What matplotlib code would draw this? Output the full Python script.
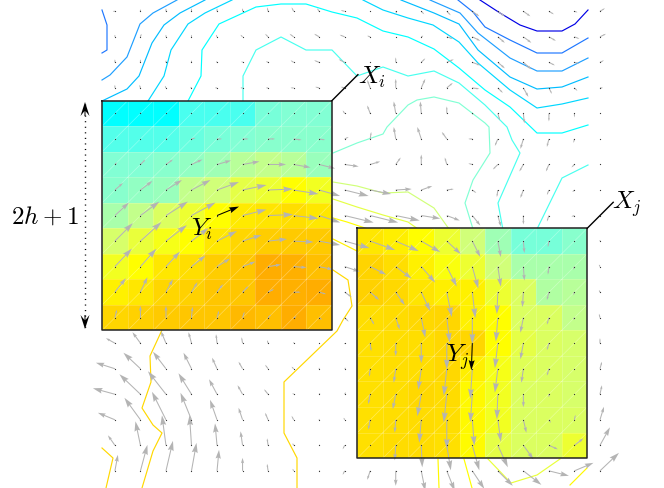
import numpy as np
from matplotlib import pyplot as plt
from matplotlib.colors import LinearSegmentedColormap, Normalize

plt.rcParams['mathtext.fontset'] = 'cm'

# vector field, one row per grid row (y grows downwards), pixels of displacement
u = np.array([
    [-2, 0, 0, 0, 0, 0, -1, -2, -2, -4, 0, 1, 3, 4, 7, 7, 7, 5, 3, 5],
    [0, 1, 0, 0, -1, -2, -3, -4, -5, -5, -3, 0, 2, 6, 8, 7, 8, 7, 5, 6],
    [0, 0, 0, 0, -1, -1, -2, -3, -5, -6, 0, 0, 4, 7, 8, 7, 8, 6, 5, 4],
    [0, -1, -1, -1, -2, -2, -2, -3, -4, -4, -3, 0, 4, 6, 7, 5, 5, 3, 3, 3],
    [0, 1, 0, 0, 0, 0, 1, 0, 0, -2, -3, -2, -1, 0, 1, 2, 1, 0, 0, 0],
    [0, 0, 1, 4, 5, 6, 7, 8, 6, 4, 1, -2, -4, -5, -4, -3, -3, -2, -1, 0],
    [2, 5, 7, 11, 14, 17, 18, 17, 16, 14, 10, 5, 0, -2, -4, -5, -4, -3, -3, 0],
    [8, 12, 16, 19, 22, 24, 25, 25, 21, 24, 21, 16, 11, 7, 4, -1, -3, -2, -2, 0],
    [14, 19, 22, 24, 22, 24, 25, 25, 21, 29, 28, 24, 19, 13, 8, 3, 0, -2, -3, 0],
    [18, 21, 21, 17, 20, 19, 19, 20, 21, 25, 25, 23, 19, 14, 8, 3, 1, -1, 0, 0],
    [17, 16, 14, 14, 13, 13, 13, 13, 14, 15, 16, 16, 14, 10, 6, 3, 1, -1, -1, -1],
    [11, 7, 7, 6, 6, 6, 6, 7, 7, 7, 9, 9, 9, 5, 3, -1, -1, -2, -1, -1],
    [2, 0, 0, 1, 2, 2, 3, 3, 3, 4, 4, 4, 4, 3, 0, -2, -3, -2, -1, -1],
    [-9, -8, -5, -3, -1, -1, -1, 0, 0, 0, 1, 0, 0, 0, -1, -3, -3, -2, 0, 0],
    [-19, -17, -13, -8, -5, -4, -3, -2, 0, 1, -1, -2, -3, -3, -2, -3, -2, -2, 0, 2],
    [-22, -21, -18, -13, -8, -5, -4, -1, 1, 1, -2, -3, -4, -3, -2, -1, 0, 0, 0, 2],
    [-17, -16, -14, -11, -7, -4, -3, -2, 0, -1, -2, -1, -2, 0, 2, 3, 3, 2, 1, 4],
    [-7, -5, -4, -2, -2, -2, -1, -1, 1, -2, 0, -1, 1, 4, 7, 10, 10, 9, 9, 10],
    [3, 7, 7, 5, 2, 0, -1, -1, 1, -2, -3, 0, 4, 8, 12, 15, 18, 20, 19, 19],
], dtype=float)
v = np.array([
    [0, -2, -3, -3, -3, -3, -4, -4, -3, -1, 0, 2, 3, 4, 5, 5, 5, 3, 1, -3],
    [-2, -3, -2, -2, -2, -2, -3, -3, -3, -2, -1, 0, -1, 2, 4, 6, 6, 4, 2, -3],
    [-3, -3, -2, -2, -1, -1, -1, -2, -2, -3, 0, -5, -4, -3, 3, 6, 7, 3, 1, -2],
    [-3, -3, -2, -1, 0, 0, 0, 0, -1, -1, -8, -9, -9, -5, 1, 5, 9, 6, 3, 0],
    [0, -1, 0, 0, 0, 0, 0, 0, 0, -3, -8, -12, -12, -7, 1, 7, 10, 8, 4, 0],
    [0, 0, -1, -1, 0, 0, 0, 1, 1, -2, -7, -12, -12, -7, 0, 7, 10, 8, 4, 0],
    [-2, -5, -5, -5, -4, -3, 0, 3, 4, 2, -3, -7, -10, -7, -1, 5, 7, 7, 3, 0],
    [-7, -9, -10, -10, -8, -5, -1, 4, 6, 6, 4, -1, -4, -1, 3, 7, 8, 5, 2, 0],
    [-13, -14, -14, -13, -9, -6, -1, 3, 7, 7, 7, 5, 3, 5, 10, 11, 9, 6, 1, 0],
    [-18, -19, -16, -13, -10, -6, -2, 1, 4, 7, 9, 10, 11, 13, 16, 16, 12, 6, 0, -1],
    [-18, -18, -15, -11, -8, -5, -2, 1, 3, 5, 8, 12, 16, 20, 22, 20, 14, 8, 3, -2],
    [-14, -15, -13, -10, -8, -6, -3, 0, 2, 5, 8, 13, 19, 25, 26, 22, 15, 8, 3, -2],
    [-8, -12, -12, -11, -7, -6, -3, -1, 2, 4, 7, 12, 20, 25, 26, 24, 15, 7, 2, -4],
    [-5, -11, -12, -11, -9, -6, -3, -1, 0, 1, 8, 13, 20, 26, 27, 25, 16, 7, 0, -5],
    [-6, -16, -17, -16, -11, -7, -4, -2, -1, -1, 8, 14, 21, 27, 30, 24, 14, 7, 0, -7],
    [-6, -20, -23, -21, -15, -9, -5, -1, -1, -2, 10, 15, 22, 28, 28, 25, 13, 3, 0, -9],
    [-7, -22, -28, -27, -20, -12, -7, -4, -1, -2, 10, 13, 23, 29, 26, 22, 13, 3, -5, -13],
    [-10, -24, -30, -30, -22, -14, -7, -2, 0, 4, 0, 15, 22, 25, 25, 22, 14, 4, -7, -18],
    [-16, -26, -30, -28, -21, -13, -7, -2, 0, 4, 9, 15, 20, 20, 18, 15, 14, 5, -8, -18],
], dtype=float)

# level of each cell in the two patches
patch_i = np.array([
    [0, 0, 0, .5, .5, .5, .9, 1, 1],
    [.6, .6, .6, .8, .9, 1, 1.1, 1.1, 1.1],
    [1, 1, 1.1, 1.2, 1.4, 1.7, 1.8, 1.7, 1.3],
    [1.1, 1.2, 1.3, 1.8, 2, 2.4, 2.6, 3, 2.7],
    [1.5, 1.8, 2.2, 2.6, 3, 3.6, 3.8, 4, 3.7],
    [2.1, 2.5, 2.8, 3, 3.7, 4.3, 4.7, 4.8, 4.8],
    [2.7, 3, 3.7, 4, 4.7, 5, 5.8, 5.7, 5.2],
    [3.4, 3.7, 4.3, 4.5, 5, 5, 5.8, 5.7, 5.8],
    [4.3, 4.5, 4.8, 5, 5, 5.4, 5.2, 5.8, 5.2],
])
patch_j = np.array([
    [3.7, 3.5, 3, 2.6, 2, 1.4, .9, .9, 1.1],
    [4.4, 4, 3.4, 2.9, 2.6, 2, 1.5, 1.5, 1.5],
    [4.5, 4.2, 3.8, 3.5, 3.4, 2.6, 2.2, 1.6, 1.7],
    [4, 4.1, 4.2, 4.3, 3.4, 3, 2.2, 2.2, 1.8],
    [3.9, 4, 4, 4.2, 4.3, 3, 2.4, 2.2, 2.1],
    [3.9, 4, 4, 4.2, 3.5, 2.8, 2.3, 2.2, 2.1],
    [3.9, 4, 4.2, 4.1, 3.2, 2.7, 2.2, 2.2, 2.1],
    [3.9, 4, 4.1, 4, 3.2, 2.7, 2.2, 2.2, 2.2],
    [3.9, 4.1, 4.1, 3.9, 3.1, 2.4, 2.2, 2.2, 2.6],
])

# contour traces
c01_x = [102, 107, 107, 102]
c01_y = [10, 25, 50, 53]
c02_x = [177, 153, 140, 127, 110, 102]
c02_y = [0, 13, 24, 57, 75, 80]
c03_x = [205, 180, 164, 152, 139, 127, 102]
c03_y = [0, 13, 25, 43, 76, 89, 101]
c04_x = [232, 205, 188, 171, 164, 148]
c04_y = [0, 13, 24, 50, 76, 101]
c05_x = [188, 201, 202, 219, 256, 281, 306, 332, 357, 383, 408, 434, 459, 485, 510, 537, 562, 588]
c05_y = [101, 76, 50, 24, 7, 4, 4, 12, 18, 31, 37, 49, 68, 90, 107, 133, 133, 125]
c06_x = [480, 500, 520, 537, 562, 575, 588]
c06_y = [0, 13, 25, 31, 31, 24, 10]
c07_x = [458, 473, 485, 510, 537, 562, 588]
c07_y = [0, 12, 27, 40, 53, 53, 38]
c08_x = [430, 460, 478, 510, 537, 562, 588]
c08_y = [0, 13, 33, 58, 71, 71, 58]
c09_x = [401, 434, 459, 478, 510, 537, 562, 588]
c09_y = [0, 13, 24, 50, 77, 89, 87, 77]
c10_x = [363, 383, 408, 433, 459, 478, 510, 537, 562, 588]
c10_y = [0, 10, 18, 25, 42, 63, 90, 108, 104, 98]
c11_x = [243, 243, 256, 281, 306, 332, 357, 383, 408, 434, 459, 485, 507, 512, 520, 498, 503]
c11_y = [101, 76, 50, 37, 50, 50, 76, 67, 76, 71, 83, 105, 127, 140, 153, 203, 230]
c12_x = [537, 562, 588]
c12_y = [229, 178, 165]
c13_x = [333, 357, 383, 387, 408, 417, 434, 459, 485, 489, 490, 473, 465, 473]
c13_y = [153, 143, 134, 127, 105, 100, 97, 103, 123, 127, 153, 180, 203, 229]
c14_x = [333, 357, 383, 408, 434, 449]
c14_y = [182, 186, 193, 192, 208, 229]
c15_x = [333, 357, 383, 408, 418]
c15_y = [199, 207, 215, 222, 229]
c16_x = [333, 347, 368]
c16_y = [218, 222, 229]
c17_x = [333, 357]
c17_y = [239, 251]
c18_x = [333, 348, 352, 343, 337, 284, 284, 297, 297]
c18_y = [270, 280, 306, 320, 331, 382, 433, 458, 488]
c19_x = [162, 150, 151, 142, 153, 162, 153, 142]
c19_y = [330, 356, 382, 408, 425, 433, 451, 488]
c20_x = [102, 113, 106]
c20_y = [448, 458, 488]
c21_x = [438, 439]
c21_y = [459, 488]
c22_x = [464, 472]
c22_y = [459, 488]
c23_x = [488, 511, 537, 560]
c23_y = [459, 483, 475, 459]
c24_x = [570, 587]
c24_y = [485, 468]

contours = [(-4, c01_x, c01_y), (-3, c02_x, c02_y), (-2, c03_x, c03_y), (-1, c04_x, c04_y),
            (0, c05_x, c05_y), (-5, c06_x, c06_y), (-4, c07_x, c07_y), (-3, c08_x, c08_y),
            (-2, c09_x, c09_y), (-1, c10_x, c10_y), (.5, c11_x, c11_y), (.5, c12_x, c12_y),
            (1, c13_x, c13_y), (2, c14_x, c14_y), (2.4, c15_x, c15_y), (3, c16_x, c16_y),
            (3.4, c17_x, c17_y), (4.2, c18_x, c18_y), (4.2, c19_x, c19_y), (4.2, c20_x, c20_y),
            (3.2, c21_x, c21_y), (3, c22_x, c22_y), (2.5, c23_x, c23_y), (3.2, c24_x, c24_y)]

# colour scale running over the levels -5..6
cmap_nodes = [(-5, (0, 0, 230)), (-4, (30, 120, 255)), (-3, (30, 160, 255)), (-2, (0, 190, 255)),
              (-1, (0, 215, 255)), (0, (0, 255, 255)), (.5, (70, 255, 240)), (1, (130, 255, 212)),
              (1.5, (168, 255, 172)), (2, (210, 255, 120)), (3, (255, 255, 0)), (4, (255, 222, 0)),
              (5, (255, 198, 0)), (6, (255, 168, 0))]
cm = LinearSegmentedColormap.from_list('levels', [((l + 5) / 11, tuple(c / 255 for c in rgb)) for l, rgb in cmap_nodes])
norm = Normalize(-5, 6)

# grid geometry
x0, y0, step = 114.9, 11.3, 25.53
col = x0 + step * np.arange(20)
row = y0 + step * np.arange(19)
X, Y = np.meshgrid(col, row)

fig = plt.figure(figsize=(6.64, 4.88), dpi=100)
ax = fig.add_axes([0, 0, 1, 1])
ax.set_xlim(0, 664)
ax.set_ylim(488, 0)
ax.axis('off')

for lev, cx, cy in contours:
    ax.plot(cx, cy, color=cm(norm(lev)), lw=0.85, zorder=1)


def draw_patch(values, c0, r0):
    xe = x0 + step * (c0 - 0.5 + np.arange(10))
    ye = y0 + step * (r0 - 0.5 + np.arange(10))
    ax.pcolormesh(xe, ye, values, cmap=cm, norm=norm, zorder=2)
    for k in range(10):
        ax.plot([xe[k], xe[k]], [ye[0], ye[-1]], color='w', alpha=0.25, lw=0.5, zorder=3)
        ax.plot([xe[0], xe[-1]], [ye[k], ye[k]], color='w', alpha=0.25, lw=0.5, zorder=3)
    for a in range(9):
        for b in range(9):
            ax.plot([xe[a], xe[a + 1]], [ye[b + 1], ye[b]], color='w', alpha=0.35, lw=0.5, zorder=3)
    ax.plot([xe[0], xe[-1], xe[-1], xe[0], xe[0]], [ye[0], ye[0], ye[-1], ye[-1], ye[0]],
            color='#222222', lw=1.1, zorder=6)
    # leader from the corner to the label
    ax.plot([xe[-1], xe[-1] + 26], [ye[0], ye[0] - 26], color='k', lw=1.0, zorder=6)


draw_patch(patch_i, 0, 4)
draw_patch(patch_j, 10, 9)

# the two highlighted vectors are black, everything else grey
black = np.zeros(u.shape, dtype=bool)
black[8, 4] = True
black[13, 14] = True
# head grows with the vector, the shaft keeps its width
for r in range(u.shape[0]):
    for c in range(u.shape[1]):
        size = np.hypot(u[r, c], v[r, c])
        if size == 0:
            continue
        head = min(10, 0.42 * size)
        shade = 'k' if black[r, c] else '#b4b4b4'
        ax.arrow(X[r, c], Y[r, c], u[r, c], v[r, c], width=1.05, head_width=max(1.05, 0.6 * head), head_length=head,
                 length_includes_head=True, overhang=0.12, color=shade, lw=0, zorder=5 if black[r, c] else 4)
ax.scatter(X.ravel(), Y.ravel(), s=0.8, color='#333333', linewidths=0, zorder=5)

# 2h+1 bracket
ax.plot([85, 85], [104, 328], color='k', lw=1.0, ls=(0, (0.8, 3.2)), zorder=3)
heads = dict(angles='xy', scale_units='xy', scale=1, units='dots', width=1.0, color='k',
             headwidth=9, headlength=14, headaxislength=9, minshaft=0.1, minlength=0, zorder=4)
ax.quiver([85, 85], [116, 315], [0, 0], [-14, 14], **heads)

fs = 18
ax.text(45, 217, r'$2h+1$', fontsize=fs, ha='center', va='center', zorder=7)
ax.text(372, 77, r'$X_i$', fontsize=fs, ha='center', va='center', zorder=7)
ax.text(627, 204, r'$X_j$', fontsize=fs, ha='center', va='center', zorder=7)
ax.text(202, 229, r'$Y_i$', fontsize=fs, ha='center', va='center', zorder=7)
ax.text(458, 357, r'$Y_j$', fontsize=fs, ha='center', va='center', zorder=7)

fig.savefig('out.png', dpi=100)
